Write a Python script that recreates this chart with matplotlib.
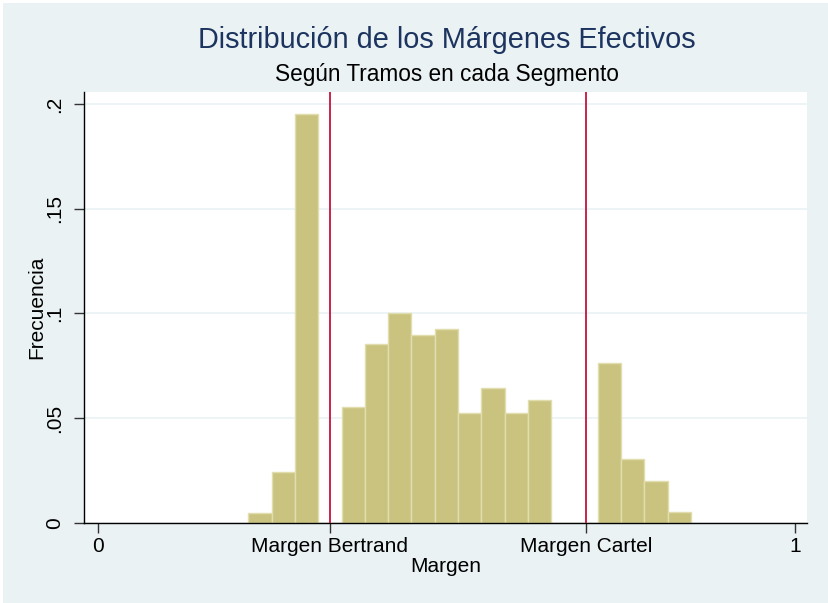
import matplotlib
matplotlib.use("Agg")
import matplotlib.pyplot as plt
from matplotlib.patches import Rectangle
import numpy as np

plt.rcParams['font.family'] = ['Liberation Sans', 'DejaVu Sans']

# Data
bin_start = 0.216
bin_width = 0.0334
frequencies = [0.0048, 0.0241, 0.1952, 0.0, 0.0555, 0.0853, 0.1001, 0.0897,
               0.0924, 0.0523, 0.0642, 0.0523, 0.0585, 0.0, 0.0, 0.0762,
               0.0303, 0.0198, 0.0050]
margen_bertrand = 0.333
margen_cartel = 0.700
xtick_values = [0, margen_bertrand, margen_cartel, 1]
xtick_labels = ["0", "Margen Bertrand", "Margen Cartel", "1"]
ytick_values = [0, 0.05, 0.1, 0.15, 0.2]
ytick_labels = ["0", ".05", ".1", ".15", ".2"]

W, H = 829, 603
fig = plt.figure(figsize=(W / 100, H / 100), dpi=100)
fig.patch.set_facecolor('white')
fig.add_artist(Rectangle((3 / W, 0), 1 - 4 / W, 1 - 3 / H, transform=fig.transFigure,
                         facecolor='#EAF2F3', edgecolor='none', zorder=-10))

ax_left, ax_right, ax_top, ax_bottom = 84, 807.5, 91.7, 522.7
ax = fig.add_axes([ax_left / W, (H - ax_bottom) / H, (ax_right - ax_left) / W,
                   (ax_bottom - ax_top) / H])
ax.set_facecolor('white')

lefts = bin_start + bin_width * np.arange(len(frequencies))
ax.bar(lefts, frequencies, width=bin_width, align='edge',
       color='#CAC380', edgecolor='#E2DDAE', linewidth=1.0, zorder=2)

for xv in [margen_bertrand, margen_cartel]:
    ax.axvline(xv, color='#C8113A', linewidth=1.3, zorder=3)

ax.set_xlim(-0.0198, 1.018)
ax.set_ylim(0, 0.206)

fs = 15
ax.set_yticks(ytick_values)
ax.set_yticklabels(ytick_labels, rotation=90, va='center', fontsize=fs)
ax.set_xticks(xtick_values)
ax.set_xticklabels(xtick_labels, fontsize=fs)
ax.yaxis.grid(True, color='#EAF2F3', linewidth=1.2, zorder=0)
ax.set_axisbelow(True)

for s in ['top', 'right']:
    ax.spines[s].set_visible(False)
for s in ['left', 'bottom']:
    ax.spines[s].set_color('black')
    ax.spines[s].set_linewidth(1.0)
ax.tick_params(axis='x', direction='out', length=7, width=1.0, color='#333333', pad=3)
ax.tick_params(axis='y', direction='out', length=7, width=1.0, color='#333333', pad=7)

ax.set_ylabel("Frecuencia", fontsize=fs)
ax.set_xlabel("Margen", fontsize=fs)
ax.yaxis.set_label_coords((37 - ax_left) / (ax_right - ax_left), 0.5)
ax.xaxis.set_label_coords(0.5, (ax_bottom - 566) / (ax_bottom - ax_top))
ax.yaxis.label.set_va('center')
ax.xaxis.label.set_va('center')

fig.text(447 / W, 1 - 40 / H, "Distribución de los Márgenes Efectivos",
         ha='center', va='center', fontsize=20.8, color='#1C345F')
fig.text(447 / W, 1 - 74 / H, "Según Tramos en cada Segmento",
         ha='center', va='center', fontsize=16.3, color='black')

fig.savefig("out.png", dpi=100, facecolor=fig.get_facecolor())
